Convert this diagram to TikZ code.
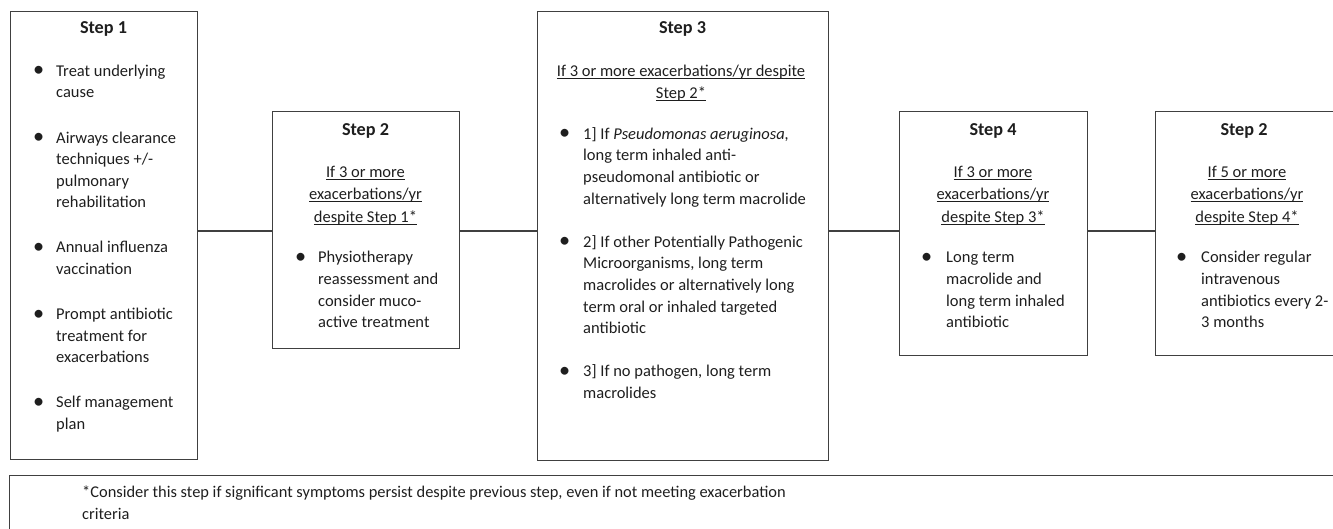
\documentclass[tikz,border=0pt]{standalone}
\usepackage{fontspec}
\setmainfont{Carlito}
\usepackage{array}
\definecolor{linec}{HTML}{404040}
\definecolor{textc}{HTML}{1E1E1E}
\newcommand\myul[1]{\underline{\smash{#1}}}
\newcommand\bodyfont{\fontsize{16.5}{21.6}\selectfont}
\newcommand\condfont{\fontsize{16.5}{22.5}\selectfont}
\newcommand\notefont{\fontsize{16.4}{22}\selectfont}
\newcommand\bul{\raisebox{-0.5pt}{\scalebox{1.35}{\textbullet}}}
\tikzset{
  box/.style={draw=linec, line width=1.3pt, anchor=north west, inner sep=0pt},
  conn/.style={draw=linec, line width=1.3pt},
  title/.style={font=\fontsize{18.2}{20}\selectfont\bfseries, text=textc, inner sep=0pt},
  cond/.style={font=\condfont, text=textc, inner sep=0pt, anchor=north},
  list/.style={font=\bodyfont, text=textc, inner sep=0pt, anchor=north west},
  notetext/.style={font=\notefont, text=textc, inner sep=0pt, anchor=north west},
}
\begin{document}
\begin{tikzpicture}[x=1pt,y=-1pt]
\useasboundingbox (0,0) rectangle (1333,528);
% boxes
\node[box, minimum width=187pt, minimum height=448pt] (b1) at (10,11) {};
\node[box, minimum width=187pt, minimum height=237pt] (b2) at (272,111) {};
\node[box, minimum width=291pt, minimum height=449pt] (b3) at (537,11) {};
\node[box, minimum width=188pt, minimum height=244pt] (b4) at (899,111) {};
\node[box, minimum width=182pt, minimum height=244pt] (b5) at (1155,111) {};
\node[box, minimum width=1345pt, minimum height=90pt] (note) at (9,475) {};
% connectors
\coordinate (cy) at (0,231);
\draw[conn] (b1.east |- cy) -- (b2.west |- cy);
\draw[conn] (b2.east |- cy) -- (b3.west |- cy);
\draw[conn] (b3.east |- cy) -- (b4.west |- cy);
\draw[conn] (b4.east |- cy) -- (b5.west |- cy);
% titles
\node[title] (t1) at (103.5,29) {Step 1};
\node[title] (t2) at (365.5,131) {Step 2};
\node[title] (t3) at (682.5,29) {Step 3};
\node[title] (t4) at (993,131) {Step 4};
\node[title] (t5) at (1244,131) {Step 2};
% conditions
\node[cond] (c2) at (365.5,161.5) {\begin{tabular}[t]{@{}c@{}}\myul{If 3 or more}\\ \myul{exacerbations/yr}\\ \myul{despite Step 1*}\end{tabular}};
\node[cond] (c3) at (681,60.5) {\begin{tabular}[t]{@{}c@{}}\myul{If 3 or more exacerbations/yr despite}\\ \myul{Step 2*}\end{tabular}};
\node[cond] (c4) at (993,161.5) {\begin{tabular}[t]{@{}c@{}}\myul{If 3 or more}\\ \myul{exacerbations/yr}\\ \myul{despite Step 3*}\end{tabular}};
\node[cond] (c5) at (1247,161.5) {\begin{tabular}[t]{@{}c@{}}\myul{If 5 or more}\\ \myul{exacerbations/yr}\\ \myul{despite Step 4*}\end{tabular}};
% lists
\node[list] (l1) at (33,61) {\begin{tabular}[t]{@{}p{23pt}@{}l@{}}
\bul & Treat underlying\\
 & cause\\[23.5pt]
\bul & Airways clearance\\
 & techniques +/-\\
 & pulmonary\\
 & rehabilitation\\[23.5pt]
\bul & Annual influenza\\
 & vaccination\\[23.5pt]
\bul & Prompt antibiotic\\
 & treatment for\\
 & exacerbations\\[23.5pt]
\bul & Self management\\
 & plan
\end{tabular}};
\node[list] (l2) at (295,247.5) {\begin{tabular}[t]{@{}p{23pt}@{}l@{}}
\bul & Physiotherapy\\
 & reassessment and\\
 & consider muco-\\
 & active treatment
\end{tabular}};
\node[list] (l3) at (559,124) {\begin{tabular}[t]{@{}p{24pt}@{}l@{}}
\bul & 1] If \textit{Pseudomonas aeruginosa,}\\
 & long term inhaled anti-\\
 & pseudomonal antibiotic or\\
 & alternatively long term macrolide\\[21.5pt]
\bul & 2] If other Potentially Pathogenic\\
 & Microorganisms, long term\\
 & macrolides or alternatively long\\
 & term oral or inhaled targeted\\
 & antibiotic\\[21.5pt]
\bul & 3] If no pathogen, long term\\
 & macrolides
\end{tabular}};
\node[list] (l4) at (921,247.5) {\begin{tabular}[t]{@{}p{25pt}@{}l@{}}
\bul & Long term\\
 & macrolide and\\
 & long term inhaled\\
 & antibiotic
\end{tabular}};
\node[list] (l5) at (1176,247.5) {\begin{tabular}[t]{@{}p{25pt}@{}l@{}}
\bul & Consider regular\\
 & intravenous\\
 & antibiotics every 2-\\
 & 3 months
\end{tabular}};
% note
\node[notetext] (nt) at (82,482) {\begin{tabular}[t]{@{}l@{}}
*Consider this step if significant symptoms persist despite previous step, even if not meeting exacerbation\\
criteria
\end{tabular}};
\end{tikzpicture}
\end{document}
